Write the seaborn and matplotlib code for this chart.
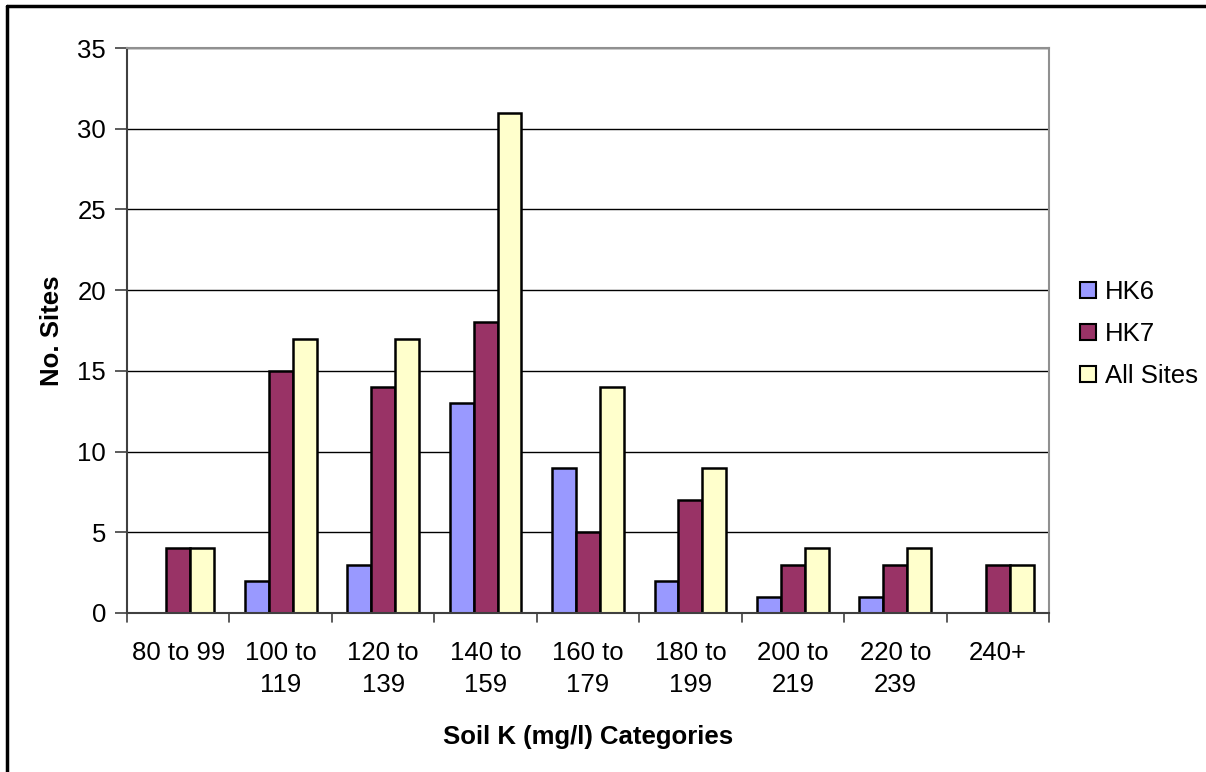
import pandas as pd
import matplotlib
matplotlib.use('Agg')
import matplotlib.pyplot as plt
from matplotlib.lines import Line2D
from matplotlib.patches import Patch
import seaborn as sns

# Data
categories = ['80 to 99', '100 to\n119', '120 to\n139', '140 to\n159', '160 to\n179',
              '180 to\n199', '200 to\n219', '220 to\n239', '240+']
hk6 = [0, 2, 3, 13, 9, 2, 1, 1, 0]
hk7 = [4, 15, 14, 18, 5, 7, 3, 3, 3]
all_sites = [4, 17, 17, 31, 14, 9, 4, 4, 3]
series = ['HK6', 'HK7', 'All Sites']
colors = ['#9999FF', '#993366', '#FFFFCC']

df = pd.DataFrame({'Category': categories * 3,
                   'Series': [s for s in series for _ in categories],
                   'Sites': hk6 + hk7 + all_sites})

sns.set_style('white')
plt.rcParams['font.family'] = ['Liberation Sans', 'DejaVu Sans']
plt.rcParams['text.color'] = 'black'
plt.rcParams['axes.labelcolor'] = 'black'
plt.rcParams['xtick.color'] = 'black'
plt.rcParams['ytick.color'] = 'black'

fig = plt.figure(figsize=(12.06, 7.72), dpi=100)
ax = fig.add_axes([127 / 1206, 1 - 613 / 772, 922 / 1206, 565 / 772])

sns.barplot(data=df, x='Category', y='Sites', hue='Series', palette=colors,
            saturation=1, width=0.7, edgecolor='black', linewidth=1.8, ax=ax, legend=False)

ax.set_ylim(0, 35)
ax.set_xlim(-0.5, len(categories) - 0.5)
ax.set_yticks(range(0, 36, 5))
ax.yaxis.grid(True, color='black', linewidth=1)
ax.set_axisbelow(True)

# ticks at category boundaries on x axis
ax.set_xticks(range(len(categories)))
ax.set_xticklabels(categories, fontsize=18.5, linespacing=1.45, color='black')
ax.tick_params(axis='x', length=0, pad=20)
for b in [i - 0.5 for i in range(len(categories) + 1)]:
    ax.plot([b, b], [0, -9 / 565], color='#404040', lw=1.2, clip_on=False,
            transform=ax.get_xaxis_transform())
ax.tick_params(axis='y', labelsize=18.5, labelcolor='black', length=9, width=1.2,
               color='#404040', direction='out', left=True, pad=6)

for side in ['top', 'right']:
    ax.spines[side].set_color('#909090')
    ax.spines[side].set_linewidth(1.5)
ax.spines['left'].set_color('#404040')
ax.spines['left'].set_linewidth(1.5)
ax.spines['bottom'].set_color('#404040')
ax.spines['bottom'].set_linewidth(1.5)

ax.set_xlabel('Soil K (mg/l) Categories', fontsize=18.5, fontweight='bold', labelpad=20)
ax.set_ylabel('No. Sites', fontsize=18.5, fontweight='bold', labelpad=10)

handles = [Patch(facecolor=c, edgecolor='black', linewidth=1.5) for c in colors]
fig.legend(handles, series, loc='center left', bbox_to_anchor=(1080 / 1206, 1 - 334 / 772),
           frameon=False, fontsize=18.5, handlelength=0.62, handleheight=0.62,
           handletextpad=0.35, labelspacing=0.7, borderpad=0, borderaxespad=0)

# outer chart border (left and top edges visible)
fig.add_artist(Line2D([7 / 1206, 7 / 1206], [0, 1 - 6 / 772], color='black', lw=2.5,
                      transform=fig.transFigure))
fig.add_artist(Line2D([7 / 1206, 1], [1 - 6 / 772, 1 - 6 / 772], color='black', lw=2.5,
                      transform=fig.transFigure))

fig.savefig('out.png', dpi=100)
